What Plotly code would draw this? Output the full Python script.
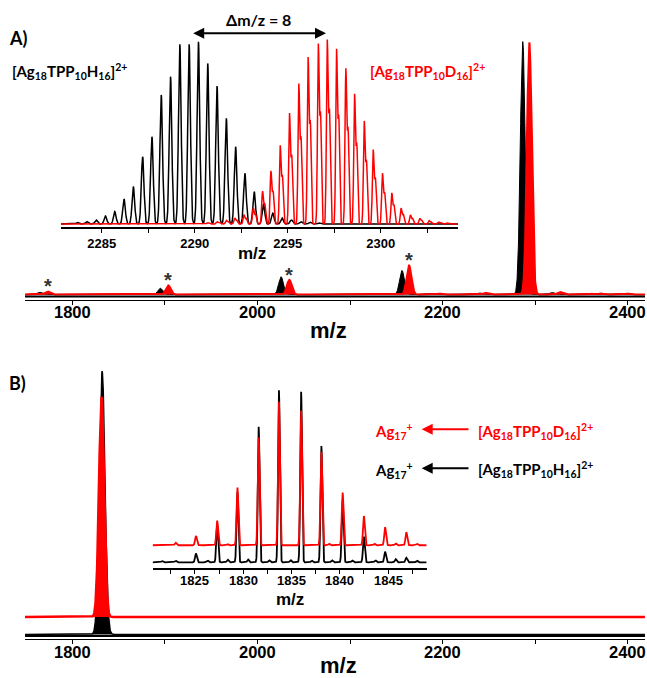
import numpy as np
import plotly.graph_objects as go

W, H = 647, 678

# ---------------- DATA ----------------
# Panel A, full spectrum (peak centres m/z, relative intensity)
a_black_mz = [1764.4, 1895.0, 2025.4, 2156.0, 2286.4, 2186.6, 2239.5, 2317.6, 2360.0, 2393.6]
a_black_int = [0.9, 2.5, 7.0, 9.5, 100.0, 0.4, 0.6, 0.8, 0.5, 0.4]
a_red_mz = [1773.2, 1903.6, 2034.3, 2163.6, 2293.5, 2197.0, 2246.0, 2326.7, 2371.0, 2400.0]
a_red_int = [1.2, 3.6, 5.8, 11.5, 99.6, 0.4, 0.6, 1.0, 0.4, 0.4]
a_star_mz = [1773.2, 1903.6, 2034.3, 2163.6]

# Panel A inset: isotope pattern
ia_black_mz = [2283.7, 2284.2, 2284.7, 2285.2, 2285.7, 2286.2, 2286.7, 2287.2, 2287.7,
               2288.2, 2288.7, 2289.2, 2289.7, 2290.2, 2290.7, 2291.2, 2291.7, 2292.2,
               2292.7, 2293.2, 2293.7, 2294.2, 2294.7, 2295.2, 2295.7, 2296.2, 2296.7]
ia_black_int = [0.8, 1.3, 2.2, 4.4, 6.8, 13.7, 20.5, 36.9, 47.9, 70.8, 80.8, 98.6, 98.6,
                100.0, 88.1, 75.7, 58.0, 42.4, 27.8, 17.7, 11.0, 6.0, 3.3, 2.2, 1.3, 1.0, 0.6]
ia_red_mz = [2290.7, 2291.2, 2291.7, 2292.15, 2292.65, 2293.15, 2293.65, 2294.1, 2294.6,
             2295.1, 2295.6, 2296.1, 2296.65, 2297.13, 2297.63, 2298.13, 2298.6, 2299.12,
             2299.6, 2300.1, 2300.6, 2301.1, 2301.6, 2302.1, 2302.6, 2303.1, 2303.6]
ia_red_int = [0.8, 1.2, 2.0, 3.3, 5.0, 8.8, 17.7, 28.7, 42.4, 59.8, 75.7, 90.0, 97.3, 99.5,
              94.5, 84.0, 70.2, 55.6, 40.2, 27.4, 16.8, 8.6, 4.9, 3.1, 1.8, 1.1, 0.6]

# Panel B, full spectrum
b_black_mz = [1832.2]
b_black_int = [100.0]
b_red_mz = [1831.6]
b_red_int = [83.4]
b_red_offset = 6.6

# Panel B inset: Ag17+ isotope pattern
ib_mz = [1823.0, 1825.1, 1827.3, 1829.4, 1831.6, 1833.7, 1836.0, 1838.1, 1840.3, 1842.5, 1844.7, 1846.9]
ib_black_int = [0.9, 5.2, 22.1, 40.7, 78.8, 100.0, 99.2, 67.6, 36.0, 14.9, 6.2, 2.7]
ib_red_int = [1.5, 5.4, 14.3, 33.5, 62.8, 83.5, 78.3, 54.4, 30.6, 17.0, 10.5, 7.6]
ib_black_small_mz = [1821.6, 1826.3, 1828.4, 1830.5, 1832.7, 1834.9, 1837.1, 1839.2, 1841.3, 1843.7, 1845.8, 1848.0]
ib_black_small_int = [0.8, 1.0, 1.5, 1.6, 1.2, 1.3, 1.0, 1.2, 1.0, 1.1, 1.8, 1.0]
ib_red_small_mz = [1828.4, 1838.9, 1843.6, 1845.8, 1848.0]
ib_red_small_int = [0.6, 0.8, 0.8, 1.0, 0.9]
ib_red_offset = 9.9

main_ticks = [1800, 2000, 2200, 2400]
ia_ticks = [2285, 2290, 2295, 2300]
ib_ticks = [1825, 1830, 1835, 1840, 1845]


def profile(grid, centers, heights, sigma):
    g = np.asarray(grid)
    y = np.zeros_like(g)
    for c, h in zip(centers, heights):
        y += h * np.exp(-0.5 * ((g - c) / sigma) ** 2)
    return y


def px(x):
    return x / W


def py(y):
    return 1 - y / H


RED = "#ff0000"
BLK = "#000000"

fig = go.Figure()

# ---- Main A ----
ga = np.arange(1748.9, 2418.4, 0.2)
fig.add_trace(go.Scatter(x=ga, y=profile(ga, a_black_mz, a_black_int, 2.6), mode="lines",
                         line=dict(color=BLK, width=1), fill="tozeroy", fillcolor=BLK,
                         xaxis="x", yaxis="y", hoverinfo="skip"))
fig.add_trace(go.Scatter(x=ga, y=profile(ga, a_red_mz, a_red_int, 2.6), mode="lines",
                         line=dict(color=RED, width=2), fill="tozeroy", fillcolor=RED,
                         xaxis="x", yaxis="y", hoverinfo="skip"))

# ---- Inset A ----
gi = np.arange(2282.8, 2304.2, 0.01)
fig.add_trace(go.Scatter(x=gi, y=profile(gi, ia_black_mz, ia_black_int, 0.07), mode="lines",
                         line=dict(color=BLK, width=1.5), xaxis="x2", yaxis="y2", hoverinfo="skip"))
red_i = profile(gi, ia_red_mz, ia_red_int, 0.045) + \
    profile(gi, [m + 0.12 for m in ia_red_mz], [0.6 * v for v in ia_red_int], 0.045)
fig.add_trace(go.Scatter(x=gi, y=red_i, mode="lines",
                         line=dict(color=RED, width=1.5), xaxis="x2", yaxis="y2", hoverinfo="skip"))

# ---- Main B ----
gb = np.arange(1748.9, 2418.4, 0.2)
fig.add_trace(go.Scatter(x=gb, y=profile(gb, b_black_mz, b_black_int, 3.0), mode="lines",
                         line=dict(color=BLK, width=1.5), fill="tozeroy", fillcolor=BLK,
                         xaxis="x3", yaxis="y3", hoverinfo="skip"))
fig.add_trace(go.Scatter(x=gb, y=np.full_like(gb, b_red_offset), mode="lines",
                         line=dict(color=RED, width=0), xaxis="x3", yaxis="y3", hoverinfo="skip"))
fig.add_trace(go.Scatter(x=gb, y=b_red_offset + profile(gb, b_red_mz, b_red_int, 2.8), mode="lines",
                         line=dict(color=RED, width=2.5), fill="tonexty", fillcolor=RED,
                         xaxis="x3", yaxis="y3", hoverinfo="skip"))

# ---- Inset B ----
gj = np.arange(1820.6, 1849.0, 0.01)
fig.add_trace(go.Scatter(x=gj, y=profile(gj, ib_mz, ib_black_int, 0.09) +
                         profile(gj, ib_black_small_mz, ib_black_small_int, 0.09),
                         mode="lines", line=dict(color=BLK, width=1.8), xaxis="x4", yaxis="y4",
                         hoverinfo="skip"))
fig.add_trace(go.Scatter(x=gj, y=ib_red_offset + profile(gj, ib_mz, ib_red_int, 0.09) +
                         profile(gj, ib_red_small_mz, ib_red_small_int, 0.09),
                         mode="lines", line=dict(color=RED, width=1.8), xaxis="x4", yaxis="y4",
                         hoverinfo="skip"))

tickfont_in = dict(family="Liberation Sans", size=13, color=BLK, weight="bold")


def xax(domain, rng, tickvals, font, minor_dtick, tick0, lw=1.5, ticklen=4, anchor="y",
        labels=True):
    return dict(domain=domain, range=rng, anchor=anchor, showgrid=False, zeroline=False,
                showline=True, linecolor=BLK, linewidth=lw, ticks="outside", ticklen=ticklen,
                tickwidth=1.3, tickcolor=BLK, tickvals=tickvals, tickfont=font,
                showticklabels=labels,
                minor=dict(ticks="outside", ticklen=ticklen, tickwidth=1.3, tickcolor=BLK,
                           dtick=minor_dtick, tick0=tick0, showgrid=False),
                fixedrange=True)


def yax(domain, rng, anchor):
    return dict(domain=domain, range=rng, anchor=anchor, visible=False, showgrid=False,
                zeroline=False, fixedrange=True)


# pixel layout
A_top, A_axis, A_base = 30, 300, 294.5
A_ppu = 2.53
B_top, B_axis, B_base = 365, 639, 634.4
B_ppu = 2.627
IA_top, IA_axis, IA_base = 38, 227, 224
IA_ppu = 1.823
IB_top, IB_axis, IB_base = 388, 568.3, 562.3
IB_ppu = 1.72

fig.update_layout(
    width=W, height=H, margin=dict(l=0, r=0, t=0, b=0),
    paper_bgcolor="white", plot_bgcolor="rgba(0,0,0,0)", showlegend=False,
    xaxis=xax([px(25), px(645)], [1748.9, 2418.4], main_ticks, tickfont_in, 100, 1800,
              lw=1.3, anchor="y", labels=False),
    yaxis=yax([py(A_axis), py(A_top)],
              [-(A_axis - A_base) / A_ppu, (A_base - A_top) / A_ppu], "x"),
    xaxis2=xax([px(61), px(458)], [2282.81, 2304.16], ia_ticks, tickfont_in, 2.5, 2285,
               lw=1.5, anchor="y2"),
    yaxis2=yax([py(IA_axis), py(IA_top)],
               [-(IA_axis - IA_base) / IA_ppu, (IA_base - IA_top) / IA_ppu], "x2"),
    xaxis3=xax([px(25), px(645)], [1748.9, 2418.4], main_ticks, tickfont_in, 100, 1800,
               lw=1.3, anchor="y3", labels=False),
    yaxis3=yax([py(B_axis), py(B_top)],
               [-(B_axis - B_base) / B_ppu, (B_base - B_top) / B_ppu], "x3"),
    xaxis4=xax([px(152.7), px(426.7)], [1820.62, 1849.01], ib_ticks, tickfont_in, 2.5, 1825,
               lw=2, anchor="y4", labels=False),
    yaxis4=yax([py(IB_axis), py(IB_top)],
               [-(IB_axis - IB_base) / IB_ppu, (IB_base - IB_top) / IB_ppu], "x4"),
)

# second (thick) axis rule above the main axes
for yy in (A_axis - 3.5, B_axis - 3):
    fig.add_shape(type="line", xref="paper", yref="paper", x0=px(25), x1=px(645),
                  y0=py(yy), y1=py(yy), line=dict(color=BLK, width=2))

# tick labels placed from the tick values
for xa, ylab, vals, size in (("x", 312, main_ticks, 16.5), ("x3", 652, main_ticks, 16.5),
                             ("x4", 580.5, ib_ticks, 13)):
    for t in vals:
        fig.add_annotation(x=t, y=py(ylab), xref=xa, yref="paper", text=str(t), showarrow=False,
                           xanchor="center", yanchor="middle",
                           font=dict(family="Liberation Sans", size=size, color=BLK, weight="bold"))

lab = dict(family="Lato", color=BLK, weight="bold")
ax_title = dict(family="Liberation Sans", color=BLK, weight="bold")


def text(x, y, s, size, color=BLK, xanchor="left", fam=None):
    f = dict(fam or lab)
    f["size"] = size
    f["color"] = color
    fig.add_annotation(x=px(x), y=py(y), xref="paper", yref="paper", text=s, showarrow=False,
                       xanchor=xanchor, yanchor="middle", font=f)


def arrow(x_head, x_tail, y, color, both=False):
    fig.add_annotation(x=px(x_head), y=py(y), xref="paper", yref="paper", text="",
                       showarrow=True, axref="pixel", ayref="pixel", ax=x_tail - x_head, ay=0,
                       arrowhead=2, arrowsize=1.1, arrowwidth=2, arrowcolor=color,
                       arrowside="end+start" if both else "end", standoff=0, startstandoff=0)


text(7, 38, "A)", 18)
text(7, 383, "B)", 18)
text(10, 72, "[Ag<sub>18</sub>TPP<sub>10</sub>H<sub>16</sub>]<sup>2+</sup>", 15)
text(368, 72, "[Ag<sub>18</sub>TPP<sub>10</sub>D<sub>16</sub>]<sup>2+</sup>", 15, RED)
text(258, 20, "Δm/z = 8", 16, xanchor="center")
arrow(326, 191.7, 33.3, BLK, both=True)

text(373, 431, "Ag<sub>17</sub><sup>+</sup>", 15, RED)
text(373, 470, "Ag<sub>17</sub><sup>+</sup>", 15)
text(476, 431, "[Ag<sub>18</sub>TPP<sub>10</sub>D<sub>16</sub>]<sup>2+</sup>", 15, RED)
text(476, 469, "[Ag<sub>18</sub>TPP<sub>10</sub>H<sub>16</sub>]<sup>2+</sup>", 15)
arrow(421.7, 470, 429.3, RED)
arrow(421.7, 470, 468.3, BLK)

# axis titles
text(328, 330, "m/z", 22, xanchor="center", fam=ax_title)
text(338, 665, "m/z", 22, xanchor="center", fam=ax_title)
text(252, 253, "m/z", 17, xanchor="center", fam=ax_title)
text(290, 599.5, "m/z", 17, xanchor="center", fam=ax_title)

# asterisks above the red peaks
for m, h in zip(a_star_mz, [a_red_int[i] for i in range(4)]):
    fig.add_annotation(x=m, y=h, xref="x", yref="y", text="*", showarrow=False,
                       yanchor="bottom", yshift=-8,
                       font=dict(family="Liberation Sans", size=20, color="#333333", weight="bold"))

fig.write_html("out.html", config={"displayModeBar": False},
               post_script="document.body.style.margin='0';document.body.style.padding='0';"
                           "document.documentElement.style.overflow='hidden';")
